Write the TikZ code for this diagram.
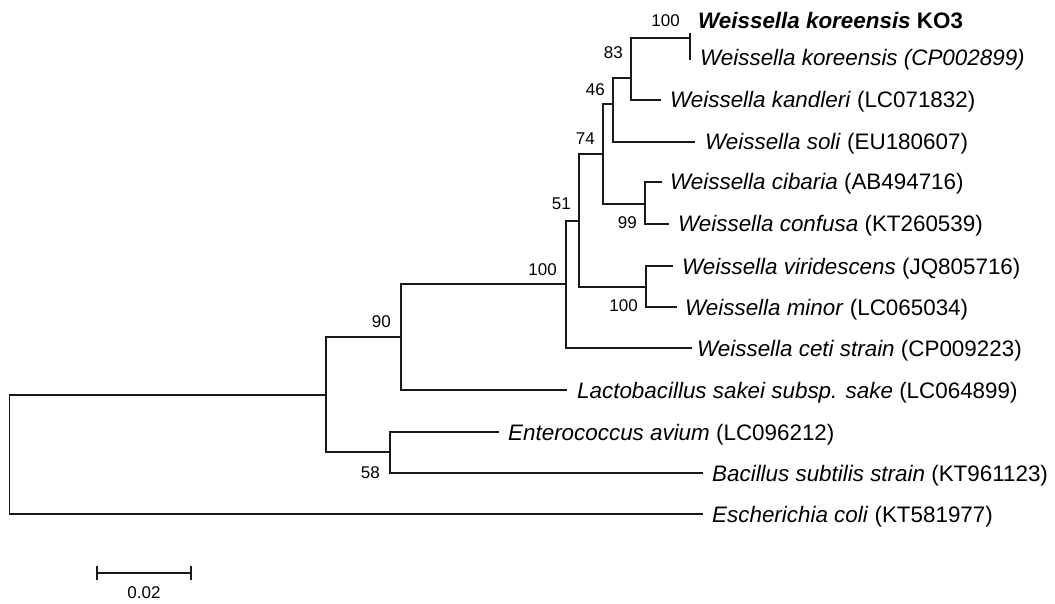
\documentclass[tikz,border=0pt]{standalone}
\usepackage{fontspec}
\setmainfont{Liberation Sans}
\usetikzlibrary{positioning}

\tikzset{
  branch/.style={line width=1.9pt, black!90},
  leaf/.style={inner sep=0pt, text height=16pt, text depth=0pt, font=\fontsize{22.4}{27}\selectfont},
  boot/.style={inner sep=0pt, font=\fontsize{17}{20}\selectfont}
}

\begin{document}
\begin{tikzpicture}[x=1pt,y=-1pt]
  \useasboundingbox (0,0) rectangle (1055,604);

  \coordinate (root) at (9.5,455);
  \coordinate (nIn) at (326,395);
  \coordinate (n90) at (401,337);
  \coordinate (n100a) at (566,284);
  \coordinate (n51) at (579,221);
  \coordinate (n74) at (603,154);
  \coordinate (n46) at (613,104);
  \coordinate (n83) at (631,78);
  \coordinate (n100t) at (690,38);
  \coordinate (n99) at (645,204);
  \coordinate (n100b) at (646,287);
  \coordinate (n58) at (390,452);

  \coordinate (tKO3) at (690,33);
  \coordinate (tCP) at (690,60);
  \coordinate (tKan) at (661,100);
  \coordinate (tSoli) at (695,142);
  \coordinate (tCib) at (662,182);
  \coordinate (tCon) at (669,224);
  \coordinate (tVir) at (673,266);
  \coordinate (tMin) at (677,307);
  \coordinate (tCeti) at (692,348);
  \coordinate (tLac) at (567,390);
  \coordinate (tEnt) at (499,432);
  \coordinate (tBac) at (703,473);
  \coordinate (tEco) at (703,514);

  \draw[branch] (root) |- (nIn);
  \draw[branch] (root) |- (tEco);
  \draw[branch] (nIn) |- (n90);
  \draw[branch] (nIn) |- (n58);
  \draw[branch] (n90) |- (n100a);
  \draw[branch] (n90) |- (tLac);
  \draw[branch] (n100a) |- (n51);
  \draw[branch] (n100a) |- (tCeti);
  \draw[branch] (n51) |- (n74);
  \draw[branch] (n51) |- (n100b);
  \draw[branch] (n74) |- (n46);
  \draw[branch] (n74) |- (n99);
  \draw[branch] (n46) |- (n83);
  \draw[branch] (n46) |- (tSoli);
  \draw[branch] (n83) |- (n100t);
  \draw[branch] (n83) |- (tKan);
  \draw[branch] (n100t) -- (tKO3);
  \draw[branch] (n100t) -- (tCP);
  \draw[branch] (n99) |- (tCib);
  \draw[branch] (n99) |- (tCon);
  \draw[branch] (n100b) |- (tVir);
  \draw[branch] (n100b) |- (tMin);
  \draw[branch] (n58) |- (tEnt);
  \draw[branch] (n58) |- (tBac);

  \node[leaf, right=8pt of tKO3, yshift=12pt] (ko3) {\textbf{\textit{Weissella koreensis} KO3}};
  \node[leaf, right=10pt of tCP, yshift=2pt] (cp) {\textit{Weissella koreensis (CP002899)}};
  \node[leaf, right=9pt of tKan] (kan) {\textit{Weissella kandleri} (LC071832)};
  \node[leaf, right=10pt of tSoli] (soli) {\textit{Weissella soli} (EU180607)};
  \node[leaf, right=8pt of tCib] (cib) {\textit{Weissella cibaria} (AB494716)};
  \node[leaf, right=9pt of tCon] (con) {\textit{Weissella confusa} (KT260539)};
  \node[leaf, right=9pt of tVir] (vir) {\textit{Weissella viridescens} (JQ805716)};
  \node[leaf, right=8pt of tMin] (min) {\textit{Weissella minor} (LC065034)};
  \node[leaf, right=5pt of tCeti] (ceti) {\textit{Weissella ceti strain} (CP009223)};
  \node[leaf, right=10pt of tLac] (lac) {\textit{Lactobacillus sakei subsp. sake} (LC064899)};
  \node[leaf, right=9pt of tEnt] (ent) {\textit{Enterococcus avium} (LC096212)};
  \node[leaf, right=9pt of tBac] (bac) {\textit{Bacillus subtilis strain} (KT961123)};
  \node[leaf, right=9pt of tEco] (eco) {\textit{Escherichia coli} (KT581977)};

  \node[boot, above left=11pt and 10pt of n100t] (b100t) {100};
  \node[boot, above left=19pt and 8pt of n83] (b83) {83};
  \node[boot, above left=8pt and 8pt of n46] (b46) {46};
  \node[boot, above left=9pt and 8pt of n74] (b74) {74};
  \node[boot, above left=11pt and 8pt of n51] (b51) {51};
  \node[boot, above left=8pt and 9pt of n100a] (b100a) {100};
  \node[boot, above left=9pt and 10pt of n90] (b90) {90};
  \node[boot, below left=14pt and 10pt of n58] (b58) {58};
  \node[boot, below left=12pt and 8pt of n99] (b99) {99};
  \node[boot, below left=12pt and 8pt of n100b] (b100b) {100};

  \coordinate (sbL) at (97,573);
  \coordinate (sbR) at (191,573);
  \coordinate (sbM) at (144,573);
  \draw[branch] (sbL) -- (sbR);
  \draw[branch] ([yshift=7pt]sbL) -- ([yshift=-7pt]sbL);
  \draw[branch] ([yshift=7pt]sbR) -- ([yshift=-7pt]sbR);
  \node[boot, below=13pt of sbM] (sbtext) {0.02};
\end{tikzpicture}
\end{document}
